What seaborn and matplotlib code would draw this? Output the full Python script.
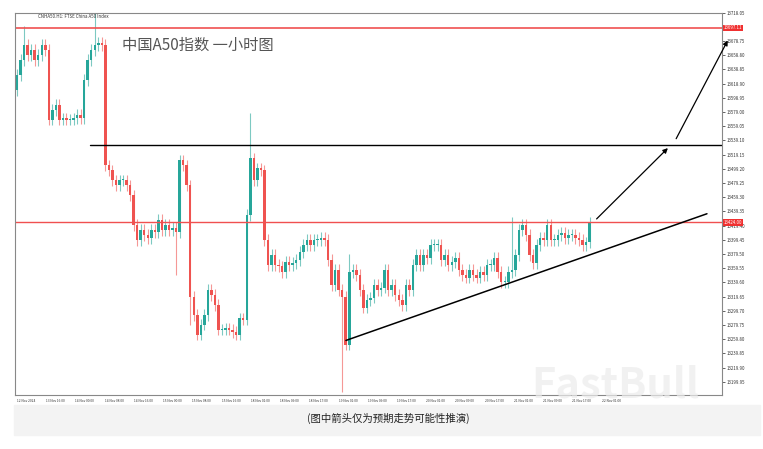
import matplotlib
matplotlib.use("Agg")
import matplotlib.pyplot as plt
import seaborn as sns
import numpy as np
import pandas as pd

sns.set_theme(style="white")
plt.rcParams['font.family'] = ['Noto Sans CJK SC', 'DejaVu Sans']

closes = [13631,13652,13673,13659,13666,13652,13659,13673,13666,13568,13582,13589,13568,13570,13568,13568,13570,13575,13570,13624,13652,13666,13673,13676,13673,13504,
          13497,13483,13476,13483,13483,13476,13462,13420,13399,13413,13406,13402,13413,13410,13427,13413,13420,13413,13416,13410,13511,13504,13476,13319,13294,13266,13280,13294,13329,13322,13308,13273,13273,13275,13273,13270,13266,13289,13287,13434,13514,13483,13500,13497,13399,13364,13378,13364,13362,13354,13368,13364,13367,13371,13382,13392,13399,13392,13399,13399,13402,13399,13371,13336,13357,13329,13319,13252,13354,13357,13350,13329,13304,13315,13318,13336,13329,13332,13357,13329,13336,13322,13315,13308,13336,13329,13364,13378,13364,13378,13374,13392,13392,13392,13371,13378,13364,13368,13374,13357,13350,13346,13357,13350,13346,13354,13350,13364,13364,13374,13354,13340,13340,13354,13357,13378,13413,13420,13406,13378,13367,13392,13402,13399,13420,13399,13399,13406,13409,13402,13406,13406,13402,13399,13392,13396,13424]
first_open = 13610
wick = 8
spike_high = {22: 13718, 66: 13577, 140: 13431, 94: 13380, 2: 13700}
spike_low = {45: 13350, 92: 13185, 49: 13280}
yticks = [13718.05,13678.75,13658.80,13638.85,13618.90,13598.95,13579.00,13559.05,13539.10,13519.15,13499.20,
          13479.25,13459.30,13439.35,13419.40,13399.45,13379.50,13359.55,13339.60,13319.65,13299.70,13279.75,
          13259.80,13239.85,13219.90,13199.95]
xlabels = ["12 Nov 2024","13 Nov 16:00","14 Nov 00:00","14 Nov 08:00","14 Nov 16:00","15 Nov 00:00","15 Nov 08:00",
           "15 Nov 16:00","18 Nov 01:00","18 Nov 09:00","18 Nov 17:00","19 Nov 01:00","19 Nov 09:00","19 Nov 17:00",
           "20 Nov 01:00","20 Nov 09:00","20 Nov 17:00","21 Nov 01:00","21 Nov 09:00","21 Nov 17:00","22 Nov 01:00"]

n = len(closes)
opens = [first_open] + closes[:-1]
highs = [max(o, c) + wick for o, c in zip(opens, closes)]
lows = [min(o, c) - wick for o, c in zip(opens, closes)]
for k, v in spike_high.items(): highs[k] = v
for k, v in spike_low.items(): lows[k] = v
df = pd.DataFrame({"i": np.arange(n), "o": opens, "c": closes, "h": highs, "l": lows})
df["bot"] = np.minimum(df.o, df.c)
df["ht"] = (df.c - df.o).abs().clip(lower=1.5)

W, H = 763, 449
fig = plt.figure(figsize=(W/100, H/100), dpi=100)
fig.patches.append(plt.Rectangle((14/W, (H-435)/H), (760-14)/W, 30/H, transform=fig.transFigure,
                                 color="#f3f3f3", zorder=0))
ax = fig.add_axes([15/W, (H-395)/H, (722-15)/W, (395-13)/H])
s = (588-17)/(n-1)
ylo, yhi = 13718.05 - (395-13)*1.405, 13718.05

up = "#26a69a"; dn = "#ef5350"
colors = [up if c >= o else dn for o, c in zip(df.o, df.c)]
ax.vlines(df.i, df.l, df.h, colors=colors, linewidth=0.8, alpha=0.6)
ax.bar(df.i, df.ht, bottom=df.bot, color=colors, width=0.7, linewidth=0)
ax.set_xlim(-2/s, (722-17)/s - 2/s)
ax.set_ylim(ylo, yhi)

def xi(px): return (px-17)/s
ax.axhline(13697.11, color="#f05050", lw=1.2)
ax.axhline(13424.0, color="#f05050", lw=1)
ax.plot([xi(90), xi(722)], [13532, 13532], color="black", lw=1)
ax.plot([xi(345), xi(705)], [13258, 13436], color="black", lw=1.1)
ax.annotate("", xy=(xi(668), 13531), xytext=(xi(593), 13426),
            arrowprops=dict(arrowstyle="-|>", color="black", lw=0.9, mutation_scale=7))
ax.annotate("", xy=(xi(727), 13683), xytext=(xi(673), 13538),
            arrowprops=dict(arrowstyle="-|>", color="black", lw=0.9, mutation_scale=7), annotation_clip=False)

ax.yaxis.tick_right()
ax.set_yticks(yticks)
ax.set_yticklabels([f"{v:.2f}" for v in yticks], fontsize=3.2, color="#333")
ax.tick_params(axis="y", length=2, pad=1, width=0.5)
xt = np.linspace(0, xi(600), len(xlabels))
ax.set_xticks(xt)
ax.set_xticklabels(xlabels, fontsize=2.3, ha="left", color="#333")
ax.tick_params(axis="x", length=2, pad=1, width=0.5)
ax.set_xlabel(""); ax.set_ylabel("")
for sp in ax.spines.values():
    sp.set_color("#888"); sp.set_linewidth(0.8)
for v, t in [(13697.11, "13697.11"), (13424.0, "13424.00")]:
    ax.text(1.002, (v-ylo)/(yhi-ylo), t, transform=ax.transAxes, fontsize=3.2, color="white",
            va="center", ha="left", bbox=dict(boxstyle="square,pad=0.2", fc="#f03030", ec="none"))

fig.text(122/W, 1-45/H, "中国A50指数 一小时图", fontsize=11, color="#555", va="center")
fig.text(38/W, 1-17/H, "CNHA50.H1: FTSE China A50 Index", fontsize=3.2, color="#333", va="center")
fig.text(615/W, 1-385/H, "FastBull", fontsize=30, color="#ececec", ha="center", va="center",
         fontweight="bold", alpha=0.7, zorder=10)
fig.text(388/W, 1-418/H, "(图中箭头仅为预期走势可能性推演)", fontsize=7.5, color="#222", ha="center", va="center")

fig.savefig("out.png", dpi=100)
